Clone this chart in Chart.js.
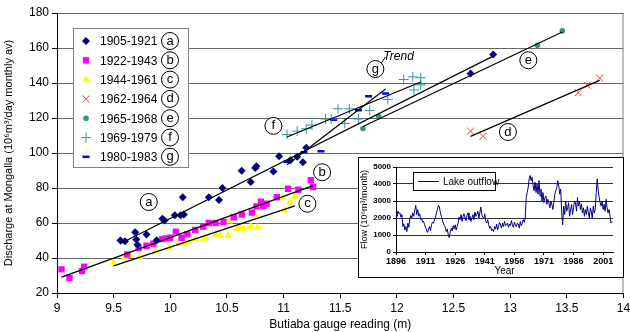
<!DOCTYPE html>
<html>
<head>
<meta charset="utf-8">
<script src="https://cdn.jsdelivr.net/npm/chart.js@4.4.0/dist/chart.umd.min.js"></script>
<style>
  html, body { margin: 0; padding: 0; background: #fff; }
  #wrap { position: relative; width: 630px; height: 332px; }
  #inset { position: absolute; left: 358px; top: 157px; width: 264px; height: 119px;
           border: 1px solid #000; background: #fff; }
</style>
</head>
<body>
<div id="wrap">
  <canvas id="main" width="630" height="332"></canvas>
  <div id="inset"><canvas id="flow" width="264" height="119"></canvas></div>
</div>
<script>
// gauge reading (m) vs discharge, one array per period
const s1905 = [[9.56,50],[9.6,49.6],[9.69,54.7],[9.7,50.6],[9.71,47.6],[9.79,53.5],[9.88,50.2],
  [9.93,62.5],[9.95,61.4],[10.04,64.5],[10.09,64.5],[10.12,64.9],[10.11,74.7],[10.34,74.7],
  [10.43,73.1],[10.46,80],[10.63,89.8],[10.71,83.5],[10.75,91.4],[10.76,92.4],[10.91,89.4],
  [10.96,98.2],[11.06,95.9],[11.12,97.8],[11.17,94.7],[11.2,103],[12.65,145.5],[12.85,156.3]];
const s1922 = [[9.04,33.5],[9.11,28.6],[9.22,32.5],[9.24,35],[9.62,42],[9.72,45.7],[9.79,47],
  [9.85,48.2],[9.93,50.8],[9.96,51.2],[10.0,51.6],[10.05,55.1],[10.1,51.6],[10.15,53.5],
  [10.22,56.1],[10.29,58],[10.34,60],[10.4,60],[10.47,60.6],[10.56,63.3],[10.63,64.9],
  [10.72,65.9],[10.76,69.5],[10.8,72.2],[10.82,69.8],[10.85,71],[10.94,74.7],[11.04,79.6],
  [11.13,79],[11.24,84.5],[11.26,80.6]];
const s1944 = [[9.5,37.5],[9.6,40.4],[9.65,41.4],[9.73,40.4],[9.87,43.7],[9.99,45.7],[10.07,48.2],
  [10.13,48.2],[10.16,49.2],[10.22,50.8],[10.29,50.8],[10.31,51.6],[10.4,53.5],[10.44,53.1],
  [10.51,52.7],[10.52,61],[10.59,56.7],[10.62,57.5],[10.65,56.7],[10.71,58],[10.77,57.5],
  [10.75,64.5],[11.01,67.3],[11.06,71.8],[11.1,75.1],[10.99,74.7]];
const s1962 = [[12.65,112.5],[12.76,109.5],[13.6,134.5],[13.68,138.8],[13.79,142.8]];
const s1965 = [[11.7,114],[11.84,120.8],[13.24,161.6],[13.46,169.8]];
const s1969 = [[11.03,110.6],[11.12,112.5],[11.2,113.9],[11.25,116],[11.37,119.4],[11.42,119.4],
  [11.48,125.3],[11.54,116.9],[11.58,125.3],[11.66,119.4],[11.76,124.3],[11.92,130.6],
  [12.06,142],[12.14,143.5],[12.21,143],[12.15,136],[12.21,139]];
const s1980 = [[11.03,95],[11.18,100.5],[11.33,101],[11.44,119],[11.66,124.5],[11.75,132.5],[11.9,134]];

const periods = ["1905-1921", "1922-1943", "1944-1961", "1962-1964", "1965-1968", "1969-1979", "1980-1983"];
const letters = ["a", "b", "c", "d", "e", "f", "g"];
const xTicks = [9, 9.5, 10, 10.5, 11, 11.5, 12, 12.5, 13, 13.5, 14];

// Lake outflow (10^6 m3/month), two readings per year from 1896
const flowStart = 1896;
const flowVals = [
  2300,2100, 2400,2250, 2300,2050, 2200,1500, 1650,1300, 1500,1200, 1700,1450, 1950,2150, 2000,2300, 2100,2450,
  2750,2200, 2500,2100, 2250,1900, 2000,1750, 1800,1600, 1450,1300, 1150,1350, 1500,1250, 1600,1750, 1700,1900,
  2000,2300, 2500,2750, 2650,2300, 2100,1900, 1700,1550, 1450,1200, 1350,1000, 850,1200, 1400,1250, 1550,1350,
  1600,1300, 1500,1700, 2050,1900, 2200,1800, 2100,2250, 2000,1850, 2150,2300, 1900,2100, 1800,2000, 2200,1900,
  2350,2100, 2200,2400, 2000,2300, 2650,2200, 2050,1950, 2250,1800, 1700,1900, 1600,1400, 1500,1250, 1350,1200,
  1500,1350, 1650,1300, 1500,1750, 1600,1400, 1700,1500, 1800,1550, 1600,1700, 1450,1650, 1550,1850, 1600,1450,
  1750,1600, 1500,1700, 1650,1400, 1800,1550, 1700,1900, 1750,2000, 3200,3500, 3800,4300, 4500,4200, 4400,3900,
  3600,4100, 3500,4000, 3400,4200, 3300,3700, 3000,3500, 2900,3200, 3300,2800, 3100,2900, 2600,3000, 2800,2500,
  2900,3400, 3600,3800, 4200,3900, 3400,3700, 2300,1600, 2700,2200, 3000,2400, 2600,2900, 2100,2500, 2800,2200,
  2600,3000, 2900,2400, 3200,2700, 3000,2500, 2800,2300, 2600,2100, 2500,2200, 2700,2300, 2000,2600, 2400,1950,
  2700,2300, 2500,3500, 4300,3600, 3200,2900, 2700,3000, 2500,2800, 2400,3100, 2600,2300, 2500,2100, 1700,1800
];
const flowTicks = [1896, 1911, 1926, 1941, 1956, 1971, 1986, 2001];

// circled labels, in data units
const tags = [["a", 9.81, 72], ["b", 11.34, 89], ["c", 11.21, 71], ["d", 12.98, 112],
              ["e", 13.16, 153], ["f", 10.91, 115.5], ["g", 11.81, 148]];

const FONT = "'Liberation Sans', Arial, sans-serif";
Chart.defaults.font.family = FONT;
Chart.defaults.color = "#000";

const looks = [
  { style: "rectRot", r: 4, fill: "#000080", line: "#000080", w: 0 },
  { style: "rect", r: 4.5, fill: "#FF00FF", line: "#FF00FF", w: 0 },
  { style: "triangle", r: 4.5, fill: "#FFFF00", line: "#FFFF00", w: 0 },
  { style: "crossRot", r: 5, fill: "#FF3333", line: "#FF3333", w: 1 },
  { style: "circle", r: 2.8, fill: "#339966", line: "#339966", w: 0 },
  { style: "cross", r: 5, fill: "#339999", line: "#339999", w: 1 },
  { style: "line", r: 3.5, fill: "#0000FF", line: "#0000FF", w: 2.5 }
];

const allSeries = [s1905, s1922, s1944, s1962, s1965, s1969, s1980];

function toPts(arr) { return arr.map(p => ({ x: p[0], y: p[1] })); }

// least-squares line over the series' own x range
function trend(arr) {
  const n = arr.length;
  let sx = 0, sy = 0, sxx = 0, sxy = 0;
  arr.forEach(p => { sx += p[0]; sy += p[1]; sxx += p[0] * p[0]; sxy += p[0] * p[1]; });
  const m = (n * sxy - sx * sy) / (n * sxx - sx * sx);
  const b = (sy - m * sx) / n;
  const xs = arr.map(p => p[0]);
  const lo = Math.min(...xs), hi = Math.max(...xs);
  return [{ x: lo, y: m * lo + b }, { x: hi, y: m * hi + b }];
}

const datasets = [];
allSeries.forEach((s, i) => {
  const lk = looks[i];
  datasets.push({
    label: periods[i],
    data: toPts(s),
    showLine: false,
    pointStyle: lk.style,
    pointRadius: lk.r,
    pointBackgroundColor: lk.fill,
    pointBorderColor: lk.line,
    pointBorderWidth: lk.w,
    order: 1
  });
});
allSeries.forEach((s, i) => {
  datasets.push({
    label: "trend " + letters[i],
    data: trend(s),
    showLine: true,
    pointRadius: 0,
    borderColor: "#000",
    borderWidth: 1.2,
    order: 0
  });
});

function marker(ctx, lk, x, y) {
  ctx.fillStyle = lk.fill;
  ctx.strokeStyle = lk.line;
  ctx.lineWidth = lk.w;
  Chart.helpers.drawPoint(ctx, { pointStyle: lk.style, radius: lk.r, rotation: 0, borderWidth: lk.w }, x, y);
}

function circled(ctx, t, x, y) {
  ctx.beginPath();
  ctx.arc(x, y, 8.5, 0, Math.PI * 2);
  ctx.fillStyle = "#fff";
  ctx.fill();
  ctx.lineWidth = 1;
  ctx.strokeStyle = "#000";
  ctx.stroke();
  ctx.fillStyle = "#000";
  ctx.font = "13px " + FONT;
  ctx.textAlign = "center";
  ctx.textBaseline = "middle";
  ctx.fillText(t, x, y);
}

const extras = {
  id: "extras",
  afterDatasetsDraw(chart) {
    const { ctx, chartArea, scales: { x, y } } = chart;
    ctx.save();
    // plot area right edge
    ctx.strokeStyle = "#808080";
    ctx.lineWidth = 1;
    ctx.beginPath();
    ctx.moveTo(chartArea.right - 0.5, chartArea.top);
    ctx.lineTo(chartArea.right - 0.5, chartArea.bottom);
    ctx.stroke();

    tags.forEach(([t, vx, vy]) => circled(ctx, t, x.getPixelForValue(vx), y.getPixelForValue(vy)));

    // "Trend" note pointing at g
    const gx = x.getPixelForValue(11.81), gy = y.getPixelForValue(148);
    ctx.strokeStyle = "#000";
    ctx.beginPath();
    ctx.moveTo(gx + 6, gy - 6);
    ctx.lineTo(gx + 10, gy - 12);
    ctx.stroke();
    ctx.fillStyle = "#000";
    ctx.font = "italic 12px " + FONT;
    ctx.textAlign = "left";
    ctx.textBaseline = "middle";
    ctx.fillText("Trend", gx + 8, gy - 12);

    // legend box
    const lx = chartArea.left + 16, ly = chartArea.top + 15;
    ctx.fillStyle = "#fff";
    ctx.fillRect(lx, ly, 115, 139);
    ctx.strokeStyle = "#808080";
    ctx.strokeRect(lx + 0.5, ly + 0.5, 115, 139);
    periods.forEach((p, i) => {
      const ry = ly + 13 + i * 19.3;
      marker(ctx, looks[i], lx + 13, ry);
      ctx.fillStyle = "#000";
      ctx.font = "12px " + FONT;
      ctx.textAlign = "left";
      ctx.textBaseline = "middle";
      ctx.fillText(p, lx + 27, ry + 1);
      circled(ctx, letters[i], lx + 97, ry);
    });
    ctx.restore();
  }
};

new Chart(document.getElementById("main"), {
  type: "scatter",
  data: { datasets: datasets },
  options: {
    responsive: false,
    animation: false,
    events: [],
    layout: { padding: { left: 0, right: 3, top: 13, bottom: 0 } },
    plugins: { legend: { display: false }, tooltip: { enabled: false } },
    scales: {
      x: {
        type: "linear", min: 9, max: 14,
        afterBuildTicks: s => { s.ticks = xTicks.map(v => ({ value: v })); },
        afterFit: s => { s.height = 39; s.paddingLeft = 0; s.paddingRight = 0; },
        ticks: { callback: v => String(v), font: { size: 12 }, padding: 3, maxRotation: 0, autoSkip: false },
        grid: { drawOnChartArea: false, tickLength: 5, tickColor: "#000" },
        border: { color: "#000" },
        title: { display: true, text: "Butiaba gauge reading (m)", font: { size: 12 }, padding: { top: 2, bottom: 0 } }
      },
      y: {
        min: 20, max: 180,
        afterFit: s => { s.width = 57; s.paddingTop = 0; s.paddingBottom = 0; },
        ticks: { stepSize: 20, font: { size: 12 }, padding: 3 },
        grid: { color: "#666", tickLength: 5, tickColor: "#000" },
        border: { color: "#000" },
        title: { display: true, text: "Discharge at Mongalla (10\u2076m\u00B3/day monthly av)", font: { size: 11 }, padding: { top: 2, bottom: 2 } }
      }
    }
  },
  plugins: [extras]
});

// inset: lake outflow
const flowPts = flowVals.map((v, i) => ({ x: flowStart + i / 2, y: v }));

const flowLegend = {
  id: "flowLegend",
  afterDatasetsDraw(chart) {
    const ctx = chart.ctx;
    ctx.save();
    ctx.fillStyle = "#fff";
    ctx.fillRect(54, 14, 82, 18);
    ctx.strokeStyle = "#000";
    ctx.lineWidth = 1;
    ctx.strokeRect(54.5, 14.5, 82, 18);
    ctx.strokeStyle = "#000080";
    ctx.beginPath();
    ctx.moveTo(59, 23.5);
    ctx.lineTo(80, 23.5);
    ctx.stroke();
    ctx.fillStyle = "#000";
    ctx.font = "10px " + FONT;
    ctx.textAlign = "left";
    ctx.textBaseline = "middle";
    ctx.fillText("Lake outflow", 84, 24);
    ctx.restore();
  }
};

new Chart(document.getElementById("flow"), {
  type: "line",
  data: { datasets: [{ data: flowPts, borderColor: "#000080", borderWidth: 1, pointRadius: 0, tension: 0 }] },
  options: {
    responsive: false,
    animation: false,
    events: [],
    layout: { padding: { left: 0, right: 10, top: 9, bottom: 0 } },
    plugins: { legend: { display: false }, tooltip: { enabled: false } },
    scales: {
      x: {
        type: "linear", min: 1896, max: 2006,
        afterBuildTicks: s => { s.ticks = flowTicks.map(v => ({ value: v })); },
        afterFit: s => { s.height = 25; s.paddingLeft = 0; s.paddingRight = 0; },
        ticks: { callback: v => String(v), font: { size: 9, weight: "bold" }, padding: 1, maxRotation: 0, autoSkip: false },
        grid: { drawOnChartArea: false, tickLength: 3, tickColor: "#000" },
        border: { color: "#000" },
        title: { display: true, text: "Year", font: { size: 10 }, padding: 0 }
      },
      y: {
        min: 0, max: 5000,
        afterFit: s => { s.width = 37; s.paddingTop = 0; s.paddingBottom = 0; },
        ticks: { stepSize: 1000, callback: v => String(v), font: { size: 8, weight: "bold" }, padding: 2 },
        grid: { color: "#333", tickLength: 3, tickColor: "#000" },
        border: { color: "#000" },
        title: { display: true, text: "Flow (10\u2076m\u00B3/month)", font: { size: 9 }, padding: 0 }
      }
    }
  },
  plugins: [flowLegend]
});
</script>
</body>
</html>
